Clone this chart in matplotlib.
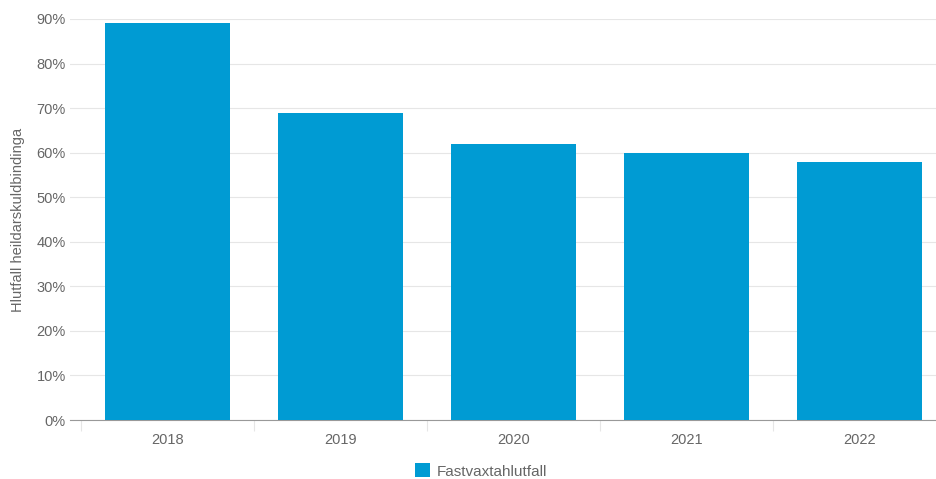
import numpy as np
import matplotlib
matplotlib.use('Agg')
import matplotlib.pyplot as plt

# data
years = ['2018', '2019', '2020', '2021', '2022']
share = [89, 69, 62, 60, 58]
series_name = 'Fastvaxtahlutfall'
y_label = 'Hlutfall heildarskuldbindinga'
y_ticks = np.arange(0, 91, 10)

plt.rcParams['font.family'] = ['Liberation Sans', 'DejaVu Sans']
bar_color = '#009bd3'
txt_color = '#666666'

W, H = 937, 479
fig = plt.figure(figsize=(W / 100, H / 100), dpi=100)
# axes starts where grid lines start (a bit left of the first category band)
# and runs to the right edge of the figure
ax = fig.add_axes([70 / W, 1 - 420 / H, (W - 70) / W, (420 - 19) / H])

x = np.arange(len(years))
ax.bar(x, share, width=0.72, color=bar_color, label=series_name, zorder=3)

ax.set_yticks(y_ticks)
ax.set_yticklabels([f'{v}%' for v in y_ticks])
ax.set_xticks(x)
ax.set_xticklabels(years)
ax.set_xticks(np.arange(-0.5, len(years)), minor=True)

# limits after the ticks, set_xticks would widen them otherwise
band = 173.0  # px per category in the reference
ax.set_xlim(-0.5 - 11 / band, -0.5 + (W - 81) / band)
ax.set_ylim(0, 90)

ax.grid(axis='y', color='#e6e6e6', linewidth=0.8, zorder=0)
for s in ['top', 'right', 'left']:
    ax.spines[s].set_visible(False)
ax.spines['bottom'].set_color('#999999')
ax.spines['bottom'].set_linewidth(0.8)

ax.tick_params(axis='y', length=0, pad=3, labelsize=10.5, labelcolor=txt_color)
ax.tick_params(axis='x', which='major', length=0, pad=9, labelsize=10.5, labelcolor=txt_color)
ax.tick_params(axis='x', which='minor', length=8, color='#e6e6e6', width=0.8)

fig.text(18 / W, 1 - 220 / H, y_label, rotation=90, ha='center', va='center',
         fontsize=10.5, color=txt_color)

fig.legend(loc='center', bbox_to_anchor=(481 / W, 1 - 471 / H), frameon=False,
           fontsize=11, labelcolor=txt_color, handlelength=1.0, handleheight=1.0,
           handletextpad=0.45, borderpad=0)

fig.savefig('out.png', dpi=100)
